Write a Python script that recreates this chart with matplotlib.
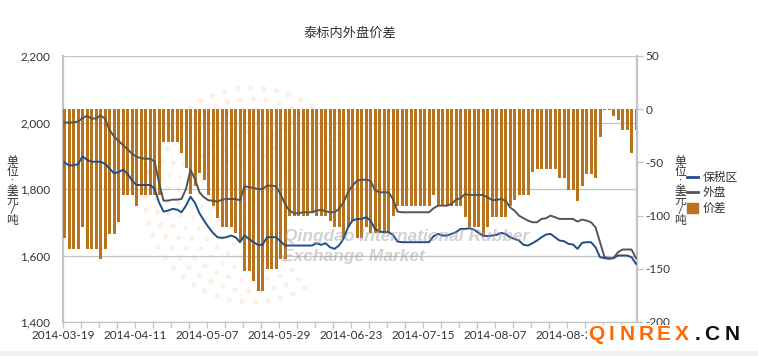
import numpy as np
import matplotlib
matplotlib.use("Agg")
import matplotlib.pyplot as plt
from matplotlib.lines import Line2D
from matplotlib.patches import Patch, Rectangle

plt.rcParams["font.family"] = ["Lato", "Noto Sans CJK SC", "DejaVu Sans"]

# 数据
tick_labels = ["2014-03-19", "2014-04-11", "2014-05-07", "2014-05-29",
               "2014-06-23", "2014-07-15", "2014-08-07", "2014-08-29"]

# 保税区
bonded = [1880, 1871, 1871, 1875, 1898, 1888, 1882, 1882, 1882, 1876,
          1862, 1847, 1851, 1858, 1846, 1826, 1812, 1812, 1812, 1812,
          1802, 1760, 1732, 1735, 1740, 1738, 1730, 1750, 1777, 1758,
          1727, 1705, 1685, 1668, 1655, 1653, 1655, 1660, 1655, 1640,
          1660, 1650, 1640, 1632, 1632, 1655, 1655, 1655, 1643, 1630,
          1630, 1630, 1630, 1630, 1630, 1630, 1637, 1632, 1637, 1625,
          1620, 1630, 1650, 1685, 1705, 1710, 1710, 1715, 1705, 1680,
          1672, 1670, 1670, 1662, 1642, 1640, 1640, 1640, 1640, 1640,
          1640, 1640, 1658, 1665, 1660, 1660, 1665, 1670, 1680, 1680,
          1682, 1678, 1668, 1660, 1658, 1660, 1662, 1668, 1665, 1655,
          1650, 1645, 1632, 1630, 1637, 1645, 1655, 1663, 1665, 1655,
          1645, 1643, 1635, 1633, 1620, 1638, 1640, 1640, 1625, 1595,
          1592, 1590, 1592, 1600, 1600, 1600, 1595, 1575]

# 外盘
overseas = [2000, 2000, 2000, 2003, 2013, 2020, 2012, 2012, 2021, 2012,
            1978, 1958, 1945, 1932, 1920, 1906, 1897, 1893, 1891, 1891,
            1883, 1820, 1765, 1765, 1768, 1768, 1770, 1800, 1858, 1830,
            1790, 1775, 1766, 1765, 1762, 1768, 1770, 1770, 1770, 1766,
            1808, 1806, 1803, 1800, 1800, 1810, 1810, 1808, 1785, 1755,
            1735, 1727, 1727, 1730, 1730, 1730, 1735, 1737, 1733, 1730,
            1730, 1740, 1760, 1790, 1810, 1825, 1828, 1828, 1825, 1797,
            1790, 1790, 1790, 1770, 1732, 1730, 1730, 1730, 1730, 1730,
            1730, 1730, 1742, 1750, 1750, 1750, 1755, 1768, 1772, 1785,
            1782, 1782, 1782, 1782, 1775, 1767, 1767, 1770, 1765, 1745,
            1735, 1720, 1712, 1705, 1700, 1700, 1710, 1712, 1720, 1715,
            1710, 1710, 1710, 1710, 1702, 1708, 1705, 1700, 1685, 1640,
            1595, 1592, 1592, 1610, 1618, 1618, 1618, 1592]

# 价差
spread = [-121, -131, -131, -131, -111, -131, -131, -131, -141, -131,
          -117, -117, -106, -81, -81, -81, -91, -81, -81, -81,
          -81, -81, -31, -31, -31, -31, -41, -55, -80, -72,
          -60, -67, -81, -91, -102, -111, -111, -111, -116, -124,
          -152, -152, -161, -171, -171, -150, -150, -150, -141, -141,
          -100, -100, -100, -100, -100, -98, -100, -100, -100, -105,
          -111, -111, -121, -111, -105, -121, -121, -111, -116, -116,
          -116, -116, -116, -100, -91, -91, -91, -91, -91, -91,
          -91, -91, -81, -91, -91, -91, -91, -91, -91, -101,
          -111, -111, -111, -120, -111, -101, -101, -101, -101, -91,
          -85, -81, -81, -81, -59, -56, -56, -56, -56, -56,
          -65, -65, -76, -76, -86, -72, -61, -61, -65, -26,
          -1, -1, -6, -10, -20, -20, -41, -20]

left_ticks = [1400, 1600, 1800, 2000, 2200]
right_ticks = [-200, -150, -100, -50, 0, 50]

BAR = "#b8741c"
BLUE = "#1f4e8c"
GRAY = "#555555"
AXC = "#c4c4c4"
TXT = "#333333"

W, H = 758, 356
fig = plt.figure(figsize=(W / 100, H / 100), dpi=100)


def fx(px):
    return px / W


def fy(py):
    return 1 - py / H


n = len(spread)
x = np.arange(n)

ax = fig.add_axes([fx(63), fy(322), fx(637) - fx(63), fy(56) - fy(322)])
axb = ax.twinx()
axl = ax.twinx()

# 水印圆点（淡）
pts_x, pts_y, sz = [], [], []
cx, cy = 252, 195
for r in range(30, 112, 11):
    step = 13.0 / r
    for a in np.arange(np.radians(35), np.radians(300), step):
        pts_x.append(fx(cx + r * np.cos(a)))
        pts_y.append(fy(cy - r * np.sin(a)))
        sz.append(3 + r / 10)
ax.scatter(pts_x, pts_y, s=sz, color="#f9d2b3", alpha=0.35, lw=0,
           transform=fig.transFigure, clip_on=False, zorder=0)

# 价差柱
axb.bar(x, spread, width=0.67, align="edge", color=BAR, linewidth=0)

# 两条价格线
axl.plot(x + 0.33, bonded, color=BLUE, lw=1.4)
axl.plot(x + 0.33, overseas, color=GRAY, lw=1.4)

for a in (ax, axb, axl):
    a.set_xlim(0, n - 0.45)
ax.set_ylim(1400, 2200)
axl.set_ylim(1400, 2200)
axb.set_ylim(-200, 50)

ax.set_yticks(left_ticks)
ax.set_yticklabels([f"{v:,}" for v in left_ticks])
ax.grid(axis="y", color=AXC, lw=0.9)
ax.tick_params(axis="y", length=0, pad=9, labelsize=8.5, labelcolor=TXT)

ax.set_xticks(np.arange(0, n, 4))
ax.set_xticklabels([tick_labels[i // 4] if i % 4 == 0 else "" for i in range(0, n // 4)])
ax.tick_params(axis="x", length=4, width=0.9, color=AXC, pad=2,
               labelsize=8.5, labelcolor=TXT)

axb.set_yticks(right_ticks)
axb.set_yticklabels([str(v) for v in right_ticks])
axb.tick_params(axis="y", length=4, width=0.9, color=AXC, pad=2,
                labelsize=8.5, labelcolor=TXT)
axl.yaxis.set_visible(False)

for a in (ax, axb, axl):
    for s in a.spines.values():
        s.set_visible(False)
ax.spines["left"].set_visible(True)
ax.spines["left"].set_color(AXC)
ax.spines["left"].set_linewidth(1.6)
ax.spines["bottom"].set_visible(True)
ax.spines["bottom"].set_color(AXC)
ax.spines["bottom"].set_linewidth(0.9)
axb.spines["right"].set_visible(True)
axb.spines["right"].set_color(AXC)
axb.spines["right"].set_linewidth(1.6)

# 水印文字
fig.text(fx(284), fy(237), "Qingdao International Rubber", fontsize=12.5,
         family="Liberation Sans", weight="bold", style="italic",
         color="#9a9a9a", alpha=0.45, ha="left", va="center", zorder=5)
fig.text(fx(282), fy(256), "Exchange Market", fontsize=12.5,
         family="Liberation Sans", weight="bold", style="italic",
         color="#9a9a9a", alpha=0.45, ha="left", va="center", zorder=5)

# 标题和单位
fig.text(fx(350), fy(33), "泰标内外盘价差", ha="center", va="center",
         fontsize=9.5, color=TXT)
unit = "单\n位\n:\n美\n元\n/\n吨"
fig.text(fx(12), fy(191), unit, ha="center", va="center", fontsize=8.5,
         color=TXT, linespacing=0.85)
fig.text(fx(680), fy(191), unit, ha="center", va="center", fontsize=8.5,
         color=TXT, linespacing=0.85)

# 图例
handles = [Line2D([], [], color=BLUE, lw=2), Line2D([], [], color=GRAY, lw=2),
           Patch(color=BAR)]
fig.legend(handles, ["保税区", "外盘", "价差"], loc="upper left",
           bbox_to_anchor=(fx(687), fy(172)), frameon=False, fontsize=8.5,
           handlelength=0.9, handleheight=0.9, handletextpad=0.4,
           labelspacing=0.35, borderpad=0, borderaxespad=0, labelcolor=TXT)

# QINREX.CN 水印
fig.patches.append(Rectangle((fx(587), fy(346)), fx(742) - fx(587), fy(325) - fy(346),
                             transform=fig.transFigure, facecolor="white",
                             edgecolor="none", zorder=9))
letters = "QINREX.CN"
centers = [596, 612, 627, 646, 664, 682, 698, 712, 732]
for k, (ch, c) in enumerate(zip(letters, centers)):
    col = "#ff6a00" if k < 6 else "#111111"
    fig.text(fx(c), fy(334), ch, ha="center", va="center", fontsize=15,
             family="Liberation Sans", weight="bold", color=col, zorder=10)

fig.patches.append(Rectangle((0, 0), 1, fy(351), transform=fig.transFigure,
                             facecolor="#f0f0ee", edgecolor="none"))

fig.savefig("out.png", dpi=100)
